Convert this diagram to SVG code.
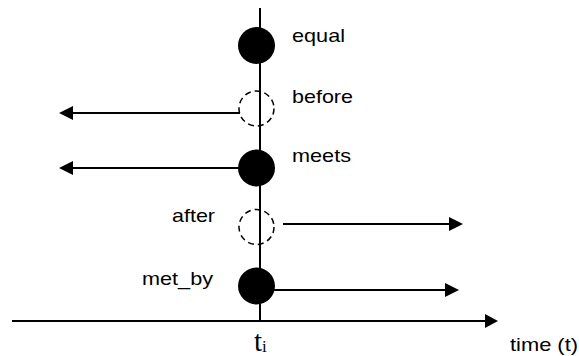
<svg xmlns="http://www.w3.org/2000/svg" width="579" height="356" viewBox="0 0 579 356">
<style>
.ln{stroke:#000;stroke-width:2;fill:none}
.solid{fill:#000;stroke:none}
.dash{fill:none;stroke:#000;stroke-width:1.5;stroke-dasharray:6 4}
.lbl{font-family:"Liberation Sans",Arial,sans-serif;font-size:19px;fill:#000}
.head{fill:#000}
</style>
<rect width="579" height="356" fill="#fff"/>
<g id="axes">
<line class="ln" x1="260" y1="8" x2="260" y2="321"/>
<line class="ln" x1="12" y1="321" x2="486" y2="321"/>
<polygon class="head" points="485,314 498,321 485,328"/>
</g>
<g id="connectors">
<line class="ln" x1="240" y1="113" x2="72" y2="113"/>
<polygon class="head" points="73,106 59,113 73,120"/>
<line class="ln" x1="256" y1="168" x2="72" y2="168"/>
<polygon class="head" points="73,161 59,168 73,175"/>
<line class="ln" x1="283" y1="224" x2="450" y2="224"/>
<polygon class="head" points="449,217 463,224 449,231"/>
<line class="ln" x1="256" y1="290" x2="446" y2="290"/>
<polygon class="head" points="445,283 459,290 445,297"/>
</g>
<g id="equal"><circle class="solid" cx="256.5" cy="45.5" r="18.5"/><text class="lbl" x="292" y="42" textLength="53" lengthAdjust="spacingAndGlyphs">equal</text></g>
<g id="before"><circle class="dash" cx="256.5" cy="108.5" r="17.5"/><text class="lbl" x="292" y="103" textLength="61" lengthAdjust="spacingAndGlyphs">before</text></g>
<g id="meets"><circle class="solid" cx="256.5" cy="168" r="18.5"/><text class="lbl" x="292" y="162" textLength="59" lengthAdjust="spacingAndGlyphs">meets</text></g>
<g id="after"><circle class="dash" cx="256.5" cy="227" r="17.5"/><text class="lbl" x="172" y="222" textLength="43" lengthAdjust="spacingAndGlyphs">after</text></g>
<g id="met_by"><circle class="solid" cx="256.5" cy="286" r="18.5"/><text class="lbl" x="142" y="285" textLength="71" lengthAdjust="spacingAndGlyphs">met_by</text></g>
<g id="ti"><text x="254" y="351" font-family="'Liberation Serif','Times New Roman',serif" font-size="29">t<tspan font-size="17" dy="1">i</tspan></text></g>
<g id="time"><text class="lbl" x="510" y="351" textLength="68" lengthAdjust="spacingAndGlyphs">time (t)</text></g>
</svg>
